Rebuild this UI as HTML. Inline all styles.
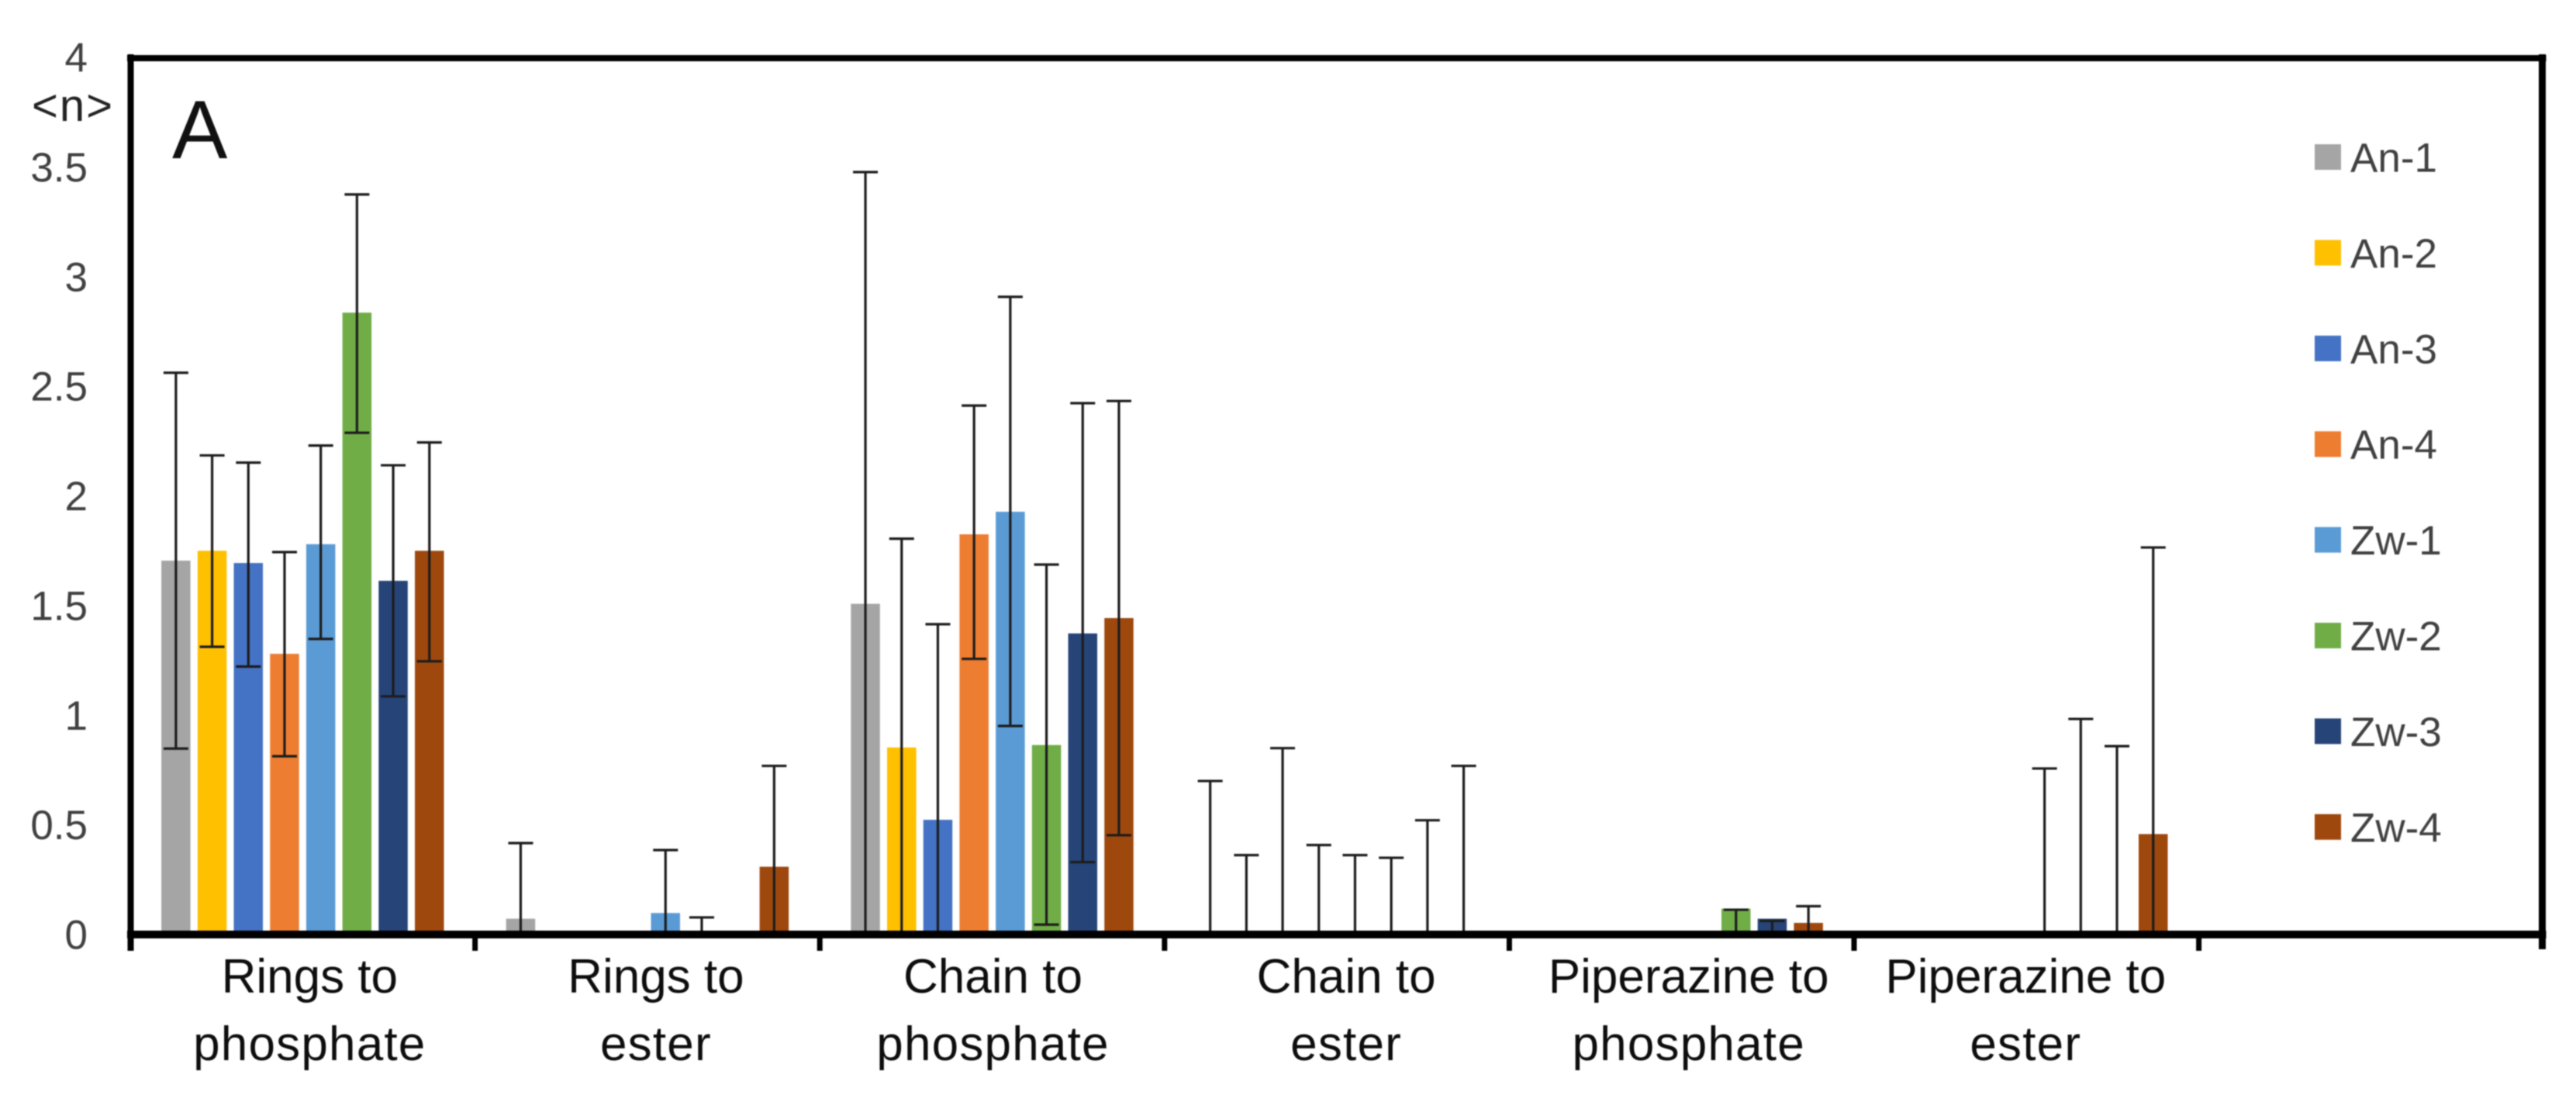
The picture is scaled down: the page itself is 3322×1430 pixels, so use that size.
<!DOCTYPE html>
<html lang="en">
<head>
<meta charset="utf-8">
<title>Contacts per group chart</title>
<style>
  html, body { margin: 0; padding: 0; background: #ffffff; }
  body { width: 3322px; height: 1430px; overflow: hidden; }
  #chart { display: block; filter: blur(0.9px); font-family: "Liberation Sans", sans-serif; }
</style>
</head>
<body>
<svg id="chart" xmlns="http://www.w3.org/2000/svg" width="3322" height="1430" viewBox="0 0 3322 1430">
  <g id="marks"></g>
  <g id="axes"></g>
  <g id="legend"></g>
  <text x="222" y="204" font-size="107" fill="#111111">A</text>
  <text x="41" y="156" font-size="58" letter-spacing="2" fill="#222222">&lt;n&gt;</text>
</svg>
<script>
const categories = [
  ['Rings to', 'phosphate'],
  ['Rings to', 'ester'],
  ['Chain to', 'phosphate'],
  ['Chain to', 'ester'],
  ['Piperazine to', 'phosphate'],
  ['Piperazine to', 'ester']
];
const seriesNames = ['An-1', 'An-2', 'An-3', 'An-4', 'Zw-1', 'Zw-2', 'Zw-3', 'Zw-4'];
const seriesColors = ['#A5A5A5', '#FFC000', '#4472C4', '#ED7D31', '#5B9BD5', '#70AD47', '#264478', '#9E480E'];
const yTickLabels = ['0', '0.5', '1', '1.5', '2', '2.5', '3', '3.5', '4'];

const valuesAn1 = [1.705, 0.072, 1.508, 0, 0, 0];
const valuesAn2 = [1.75, 0, 0.853, 0, 0, 0];
const valuesAn3 = [1.694, 0, 0.523, 0, 0, 0];
const valuesAn4 = [1.28, 0, 1.825, 0, 0, 0];
const valuesZw1 = [1.78, 0.098, 1.928, 0, 0, 0];
const valuesZw2 = [2.836, 0, 0.864, 0, 0.118, 0];
const valuesZw3 = [1.613, 0, 1.373, 0, 0.072, 0];
const valuesZw4 = [1.75, 0.309, 1.443, 0, 0.053, 0.458];

const upperAn1 = [2.562, 0.417, 3.477, 0.70, null, null];
const upperAn2 = [2.185, null, 1.805, 0.362, null, null];
const upperAn3 = [2.152, null, 1.415, 0.85, null, null];
const upperAn4 = [1.744, null, 2.412, 0.408, null, null];
const upperZw1 = [2.23, 0.385, 2.908, 0.362, null, 0.757];
const upperZw2 = [3.375, 0.078, 1.687, 0.35, 0.113, 0.983];
const upperZw3 = [2.14, null, 2.423, 0.521, 0.062, 0.859];
const upperZw4 = [2.244, 0.769, 2.433, 0.769, 0.129, 1.765];

const lowerAn1 = [0.848, null, null, null, null, null];
const lowerAn2 = [1.312, null, null, null, null, null];
const lowerAn3 = [1.222, null, null, null, null, null];
const lowerAn4 = [0.813, null, 1.257, null, null, null];
const lowerZw1 = [1.348, null, 0.951, null, null, null];
const lowerZw2 = [2.288, null, 0.045, null, null, null];
const lowerZw3 = [1.086, null, 0.33, null, null, null];
const lowerZw4 = [1.246, null, 0.453, null, null, null];

const seriesValues = [valuesAn1, valuesAn2, valuesAn3, valuesAn4, valuesZw1, valuesZw2, valuesZw3, valuesZw4];
const seriesUpper = [upperAn1, upperAn2, upperAn3, upperAn4, upperZw1, upperZw2, upperZw3, upperZw4];
const seriesLower = [lowerAn1, lowerAn2, lowerAn3, lowerAn4, lowerZw1, lowerZw2, lowerZw3, lowerZw4];

const NS = 'http://www.w3.org/2000/svg';
const plotLeft = 168, plotTop = 74, plotRight = 3278.5, plotBottom = 1205;
const bandWidth = 444.6, barPitch = 46.7, barWidth = 37.5, capHalf = 16;
const yMax = 4;
const labelNudge = [9, 11, 1, 12, 9, -1];

function yScale(v) { return plotBottom - (v / yMax) * (plotBottom - plotTop); }
function bandEdge(g) { return plotLeft + bandWidth * g; }
function barCenter(g, s) { return bandEdge(g) + bandWidth / 2 + (s - (seriesNames.length - 1) / 2) * barPitch; }
function slug(s) { return s.toLowerCase().replace(/[^a-z0-9]+/g, '-'); }

function make(tag, parent, props) {
  const el = document.createElementNS(NS, tag);
  for (const k in props) el.setAttribute(k, props[k]);
  parent.appendChild(el);
  return el;
}
function line(parent, x1, y1, x2, y2, stroke, width) {
  return make('line', parent, { x1: x1, y1: y1, x2: x2, y2: y2, stroke: stroke, 'stroke-width': width });
}

const marks = document.getElementById('marks');
const axes = document.getElementById('axes');
const legend = document.getElementById('legend');

// Bars
seriesNames.forEach(function (name, s) {
  categories.forEach(function (cat, g) {
    const v = seriesValues[s][g];
    if (!v) return;
    const top = yScale(v);
    const bar = make('rect', marks, {
      x: barCenter(g, s) - barWidth / 2, y: top,
      width: barWidth, height: plotBottom - top, fill: seriesColors[s]
    });
    
    
  });
});

// Error bars
seriesNames.forEach(function (name, s) {
  categories.forEach(function (cat, g) {
    const up = seriesUpper[s][g];
    if (up === null) return;
    const low = seriesLower[s][g];
    const cx = barCenter(g, s);
    const group = make('g', marks, {});
    
    
    const yUp = yScale(up);
    const yLow = yScale(low === null ? 0 : low);
    line(group, cx, yUp, cx, yLow, '#1c1c1c', 3.2);
    line(group, cx - capHalf, yUp, cx + capHalf, yUp, '#1c1c1c', 3.2);
    if (low !== null) line(group, cx - capHalf, yLow, cx + capHalf, yLow, '#1c1c1c', 3.2);
  });
});

// Frame
const frameLeft = line(axes, plotLeft + 0.5, 70, plotLeft + 0.5, 1226, '#000000', 8);


const frameTop = line(axes, plotLeft - 4, 75, plotRight + 5, 75, '#000000', 8);


const frameRight = line(axes, plotRight, 70, plotRight, 1224, '#000000', 9);


const frameBottom = line(axes, plotLeft - 4, plotBottom, plotRight + 5, plotBottom, '#000000', 10);



// X ticks
categories.forEach(function (cat, g) {
  const tick = line(axes, bandEdge(g + 1), plotBottom, bandEdge(g + 1), 1226, '#000000', 7);
  
  
});

// X labels
categories.forEach(function (cat, g) {
  const label = make('text', axes, { 'text-anchor': 'middle', 'font-size': 62, fill: '#0d0d0d' });
  
  
  cat.forEach(function (part, i) {
    const span = make('tspan', label, { x: bandEdge(g) + bandWidth / 2 + labelNudge[g], y: 1280 + i * 87, 'letter-spacing': i === 1 ? 1.2 : 0 });
    span.textContent = part;
  });
});

// Y tick labels
yTickLabels.forEach(function (t) {
  const label = make('text', axes, { x: 113, y: yScale(parseFloat(t)) + 18.5, 'text-anchor': 'end', 'font-size': 53, fill: '#404040' });
  label.textContent = t;
  
  
});

// Legend
seriesNames.forEach(function (name, s) {
  const cy = 202.5 + s * 123.4;
  const entry = make('g', legend, {});
  
  
  const swatch = make('rect', entry, { x: 2985, y: cy - 16.5, width: 34, height: 33, fill: seriesColors[s] });
  
  
  const text = make('text', entry, { x: 3031, y: cy + 19, 'font-size': 53, fill: '#404040' });
  text.textContent = name;
  
  
});
</script>
</body>
</html>
